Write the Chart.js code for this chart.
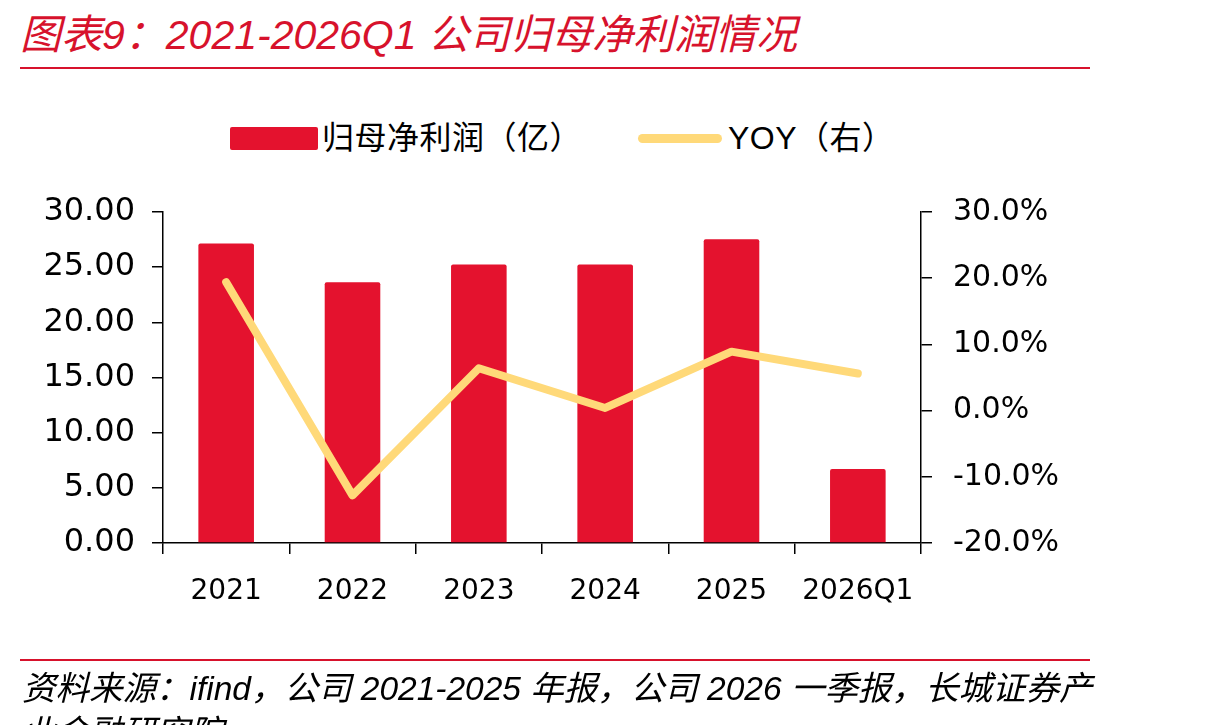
<!DOCTYPE html>
<html>
<head>
<meta charset="utf-8">
<script src="https://cdn.jsdelivr.net/npm/chart.js@4.4.1/dist/chart.umd.min.js"></script>
<style>
  html, body { margin: 0; padding: 0; background: #fff; width: 1210px; height: 725px; overflow: hidden; }
  #wrap { position: relative; width: 1210px; height: 725px; }
  #c { position: absolute; left: 0; top: 0; }
  .title { position: absolute; left: 20px; top: 1px; font-family: "Liberation Sans", "Noto Sans CJK SC", sans-serif; font-style: italic; font-size: 41px; color: #D7122C; white-space: nowrap; }
  .rule { position: absolute; left: 20px; width: 1070px; height: 2px; background: #D7122C; }
  .legend { position: absolute; top: 117px; font-family: "Liberation Sans", "Noto Sans CJK SC", sans-serif; font-size: 32px; color: #000; white-space: nowrap; line-height: 42px; letter-spacing: 0.5px; }
  .swatch { position: absolute; }
  .footer { position: absolute; left: 22px; top: 667px; width: 1080px; font-family: "Liberation Sans", "Noto Sans CJK SC", sans-serif; font-style: italic; font-size: 33.5px; line-height: 44px; color: #000; }
</style>
</head>
<body>
<div id="wrap">
  <div class="title" id="title"></div>
  <div class="rule" style="top:67px"></div>
  <div class="swatch" style="left:230px; top:127px; width:88px; height:23px; background:#E4122E; border-radius:2px"></div>
  <div class="legend" id="leg1" style="left:322px"></div>
  <div class="swatch" style="left:638px; top:134px; width:84px; height:9px; background:#FFD979; border-radius:5px"></div>
  <div class="legend" id="leg2" style="left:728px"></div>
  <canvas id="c" width="1210" height="725"></canvas>
  <div class="rule" style="top:659px"></div>
  <div class="footer" id="footer"></div>
</div>
<script>
const titleText = "图表9：2021-2026Q1 公司归母净利润情况";
const sourceText = "资料来源：ifind，公司 2021-2025 年报，公司 2026 一季报，长城证券产业金融研究院";
const categories = ["2021", "2022", "2023", "2024", "2025", "2026Q1"];
const barLabel = "归母净利润（亿）";
const lineLabel = "YOY（右）";
const netProfit = [27.15, 23.64, 25.25, 25.25, 27.52, 6.71];
const yoy = [19.4, -12.8, 6.4, 0.4, 8.9, 5.6];
const leftTicks = [0, 5, 10, 15, 20, 25, 30];
const rightTicks = [-20, -10, 0, 10, 20, 30];

document.getElementById('title').textContent = titleText;
document.getElementById('footer').textContent = sourceText;
document.getElementById('leg1').textContent = barLabel;
document.getElementById('leg2').textContent = lineLabel;

new Chart(document.getElementById('c'), {
  data: {
    labels: categories,
    datasets: [
      {
        type: 'line', label: lineLabel, data: yoy, yAxisID: 'y1', order: 0,
        borderColor: '#FFD979', borderWidth: 8, pointRadius: 0, tension: 0,
        borderCapStyle: 'round', borderJoinStyle: 'round', fill: false
      },
      {
        type: 'bar', label: barLabel, data: netProfit, yAxisID: 'y', order: 1,
        backgroundColor: '#E4122E', borderRadius: 2, borderSkipped: 'bottom',
        barPercentage: 0.44, categoryPercentage: 1
      }
    ]
  },
  options: {
    responsive: false, devicePixelRatio: 1, animation: false,
    layout: { padding: { top: 212, left: 0, right: 0, bottom: 0 } },
    plugins: { legend: { display: false }, tooltip: { enabled: false } },
    scales: {
      x: {
        position: 'bottom', offset: true,
        grid: { offset: true, drawOnChartArea: false, drawTicks: true, tickLength: 11, color: '#000', lineWidth: 1.5 },
        border: { color: '#000', width: 1.5 },
        ticks: { color: '#000', font: { family: "DejaVu Sans", size: 28 }, padding: 21, maxRotation: 0, autoSkip: false },
        afterFit: s => { s.height = 182; }
      },
      y: {
        position: 'left', min: 0, max: 30,
        afterBuildTicks: s => { s.ticks = leftTicks.map(v => ({ value: v })); },
        grid: { drawOnChartArea: false, drawTicks: true, tickLength: 11, color: '#000', lineWidth: 1.5 },
        border: { color: '#000', width: 1.5 },
        ticks: { color: '#000', font: { family: "DejaVu Sans", size: 32 }, padding: 17, callback: v => Number(v).toFixed(2) },
        afterFit: s => { s.width = 163; }
      },
      y1: {
        position: 'right', min: -20, max: 30,
        afterBuildTicks: s => { s.ticks = rightTicks.map(v => ({ value: v })); },
        grid: { drawOnChartArea: false, drawTicks: true, tickLength: 11, color: '#000', lineWidth: 1.5 },
        border: { color: '#000', width: 1.5 },
        ticks: { color: '#000', font: { family: "DejaVu Sans", size: 30 }, padding: 21, callback: v => Number(v).toFixed(1) + '%' },
        afterFit: s => { s.width = 289; }
      }
    }
  }
});
</script>
</body>
</html>
